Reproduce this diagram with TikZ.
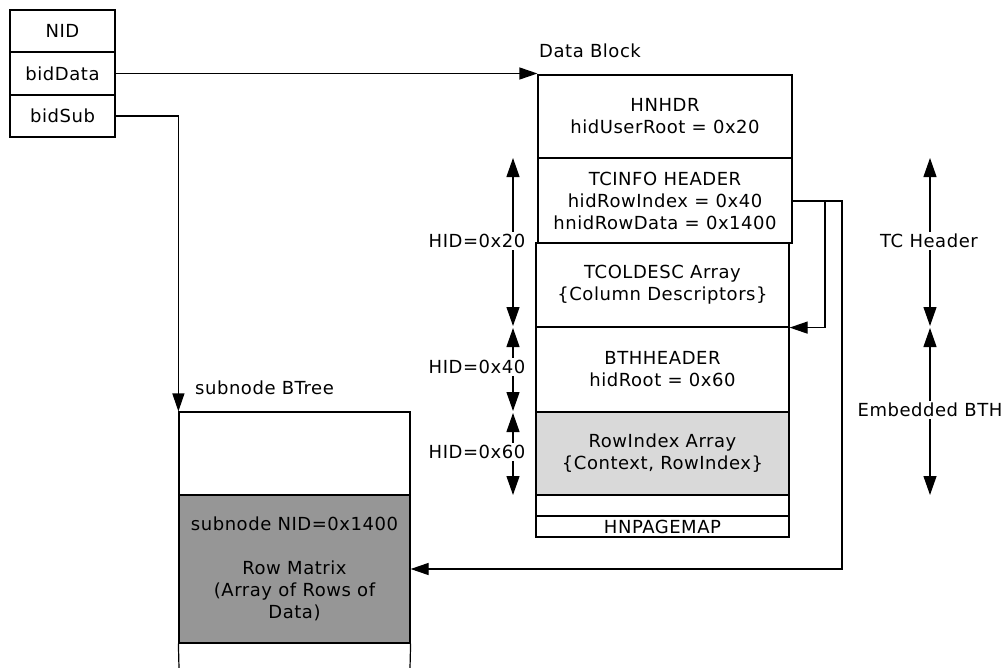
\documentclass[tikz,border=0pt]{standalone}
\usepackage{fontspec}
\setmainfont{DejaVu Sans}[LetterSpace=3]
\usetikzlibrary{arrows.meta}
\definecolor{lightfill}{HTML}{D9D9D9}
\definecolor{darkfill}{HTML}{969696}
\begin{document}
\begin{tikzpicture}[x=1bp,y=-1bp,
  every node/.style={font=\fontsize{18bp}{22bp}\selectfont, inner sep=0pt},
  cell/.style={draw, line width=1.2bp, align=center, inner sep=0pt},
  lbl/.style={fill=white, inner sep=2bp, align=center},
  arr/.style={line width=1.2bp, -{Triangle[length=18bp,width=12bp]}},
  dimarr/.style={line width=1.2bp, {Triangle[length=19bp,width=13bp]}-{Triangle[length=19bp,width=13bp]}}]
\useasboundingbox (0,0) rectangle (1002,668);

% left record
\node[cell, minimum width=105bp, minimum height=42bp] (nid) at (62.5,31) {NID};
\node[cell, minimum width=105bp, minimum height=43bp] (biddata) at (62.5,73.5) {bidData};
\node[cell, minimum width=105bp, minimum height=42bp] (bidsub) at (62.5,116) {bidSub};

% data block
\node[anchor=west] (dblabel) at (539,51) {Data Block};
\node[cell, minimum width=254bp, minimum height=83bp] (hnhdr) at (665,116.5) {HNHDR\\hidUserRoot = 0x20};
\node[cell, minimum width=254bp, minimum height=85bp] (tcinfo) at (665,200.5) {TCINFO HEADER\\hidRowIndex = 0x40\\hnidRowData = 0x1400};
\node[cell, minimum width=253bp, minimum height=84bp] (tcoldesc) at (662.5,285) {TCOLDESC Array\\\{Column Descriptors\}};
\node[cell, minimum width=253bp, minimum height=85bp] (bthheader) at (662.5,369.5) {BTHHEADER\\hidRoot = 0x60};
\node[cell, fill=lightfill, minimum width=253bp, minimum height=83bp] (rowindex) at (662.5,453.5) {RowIndex Array\\\{Context, RowIndex\}};
\node[cell, minimum width=253bp, minimum height=21bp] (gap) at (662.5,505.5) {};
\node[cell, minimum width=253bp, minimum height=21bp] (hnpagemap) at (662.5,526.5) {HNPAGEMAP};

% subnode BTree
\node[anchor=west] (sblabel) at (195,388) {subnode BTree};
\node[cell, minimum width=231bp, minimum height=83bp] (sntop) at (294.5,453.5) {};
\node[cell, fill=darkfill, minimum width=231bp, minimum height=148bp] (sndark) at (294.5,569) {subnode NID=0x1400\\[22bp]Row Matrix\\(Array of Rows of\\Data)};
\coordinate (snbl) at (179,668);
\coordinate (snbr) at (410,668);
\draw[line width=1.2bp] (sndark.south west) -- (snbl);
\draw[line width=1.2bp] (sndark.south east) -- (snbr);

% connectors
\draw[arr] (biddata.east) -- (biddata.east -| hnhdr.west);
\draw[arr] (bidsub.east) -| (sntop.north west);
\coordinate (r1) at (825,201);
\coordinate (r2) at (842,201);
\coordinate (tcout) at (792,201);
\draw[arr] (tcout) -- (r1) |- (tcoldesc.south east);
\draw[arr] (tcout) -- (r2) |- (sndark.east);

% HID dimension arrows
\coordinate (h1) at (513,158);
\coordinate (h2) at (513,326);
\coordinate (h3) at (513,328);
\coordinate (h4) at (513,411);
\coordinate (h5) at (513,413);
\coordinate (h6) at (513,495);
\draw[dimarr] (h1) -- (h2);
\draw[dimarr] (h3) -- (h4);
\draw[dimarr] (h5) -- (h6);
\node[lbl] (hid20) at (477,241) {HID=0x20};
\node[lbl] (hid40) at (477,367) {HID=0x40};
\node[lbl] (hid60) at (477,452) {HID=0x60};

% right dimension arrows
\coordinate (t1) at (930,158);
\coordinate (t2) at (930,326);
\coordinate (t3) at (930,328);
\coordinate (t4) at (930,495);
\draw[dimarr] (t1) -- (t2);
\draw[dimarr] (t3) -- (t4);
\node[lbl] (tchead) at (929,241) {TC Header};
\node[lbl] (embbth) at (930,410) {Embedded BTH};
\end{tikzpicture}
\end{document}
